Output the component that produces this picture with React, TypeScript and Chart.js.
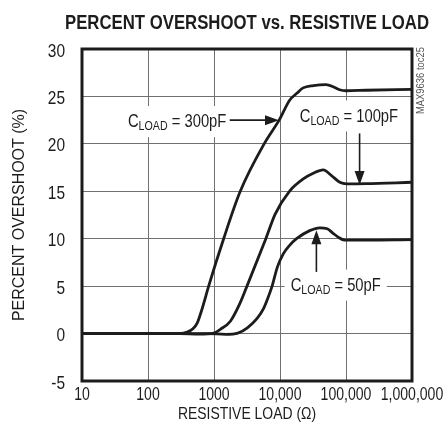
import React, { useEffect, useRef } from 'react';
import { Chart, registerables } from 'chart.js';

Chart.register(...registerables);

// ---------- data ----------
const X_TICKS = [10, 100, 1000, 10000, 100000, 1000000];
const X_TICK_LABELS = ['10', '100', '1000', '10,000', '100,000', '1,000,000'];

const R_300PF = [10, 300, 393, 480, 556, 640, 700, 830, 1400, 2500, 5750, 9700, 14000, 17800, 22400, 32000, 50000, 65000, 80000, 100000, 200000, 1000000];
const OS_300PF = [0, 0, 0.15, 0.5, 1.1, 2.3, 3.2, 5.0, 10, 15, 20, 22.5, 24.6, 25.3, 25.9, 26.15, 26.25, 26.0, 25.7, 25.6, 25.65, 25.75];

const R_100PF = [10, 300, 600, 990, 1250, 1770, 2440, 3160, 6100, 8450, 13900, 22500, 31900, 45200, 60300, 80600, 101600, 200000, 1000000];
const OS_100PF = [0, 0, -0.05, 0.05, 0.45, 1.3, 3.1, 5.0, 10, 12.6, 15, 16.3, 16.9, 17.25, 16.66, 15.95, 15.78, 15.8, 15.95];

const R_50PF = [10, 800, 1500, 2300, 3200, 4500, 5600, 6760, 7590, 9120, 11200, 14000, 17800, 28200, 40000, 52000, 63000, 75000, 95000, 200000, 1000000];
const OS_50PF = [0, 0, -0.08, 0.05, 0.6, 1.6, 2.6, 4.0, 5.0, 7.0, 8.4, 9.3, 10.0, 10.85, 11.15, 11.05, 10.6, 10.2, 9.85, 9.85, 9.9];

const TITLE = 'PERCENT OVERSHOOT vs. RESISTIVE LOAD';
const X_TITLE = 'RESISTIVE LOAD (Ω)';
const Y_TITLE = 'PERCENT OVERSHOOT (%)';
const CODE_TEXT = 'MAX9636 toc25';
const CAP_VALUES = ['300pF', '100pF', '50pF'];

// annotation anchors (data coordinates)
const ANNOTATIONS = [
  { value: CAP_VALUES[0], at: [49.7, 22.4], from: [1730, 22.5], to: [9660, 22.5] },
  { value: CAP_VALUES[1], at: [19900, 23.0], from: [160700, 21.1], to: [160700, 15.65] },
  { value: CAP_VALUES[2], at: [14500, 5.16], from: [35600, 6.5], to: [35600, 10.9] },
];

// ---------- style ----------
const INK = '#1c1c1c';
const GRID = '#707070';
const NARROW = 0.82;
const BASE = "'Liberation Sans', Arial, sans-serif";

function drawCondensed(ctx: CanvasRenderingContext2D, text: string, x: number, y: number, font: string, align: string, scaleX = NARROW) {
  ctx.save();
  ctx.font = font;
  const w = ctx.measureText(text).width * scaleX;
  let x0 = x;
  if (align === 'center') x0 = x - w / 2;
  else if (align === 'right') x0 = x - w;
  ctx.translate(x0, y);
  ctx.scale(scaleX, 1);
  ctx.textAlign = 'left';
  ctx.fillText(text, 0, 0);
  ctx.restore();
  return w;
}

function measureCondensed(ctx: CanvasRenderingContext2D, text: string, font: string, scaleX = NARROW) {
  ctx.save();
  ctx.font = font;
  const w = ctx.measureText(text).width * scaleX;
  ctx.restore();
  return w;
}

const overlay = {
  id: 'overlay',
  afterDatasetsDraw(chart: any) {
    const { ctx, chartArea: a, scales } = chart;
    const xs = scales.x;
    const ys = scales.y;
    ctx.save();
    // frame
    ctx.strokeStyle = INK;
    ctx.lineWidth = 3;
    ctx.strokeRect(a.left, a.top, a.right - a.left, a.bottom - a.top);

    // tick labels (positions from the library's scales)
    const tickFont = `18px ${BASE}`;
    ctx.fillStyle = INK;
    ctx.textBaseline = 'alphabetic';
    xs.ticks.forEach((t: any) => {
      const i = X_TICKS.indexOf(Number(t.value));
      if (i < 0) return;
      drawCondensed(ctx, X_TICK_LABELS[i], xs.getPixelForValue(t.value), a.bottom + 18.5, tickFont, 'center', 0.78);
    });
    ys.ticks.forEach((t: any) => {
      drawCondensed(ctx, String(t.value), a.left - 17, ys.getPixelForValue(t.value) + 7.5, tickFont, 'right', 0.86);
    });

    // annotations
    const mainFont = `18px ${BASE}`;
    const subFont = `13px ${BASE}`;
    ANNOTATIONS.forEach((an) => {
      const left = xs.getPixelForValue(an.at[0]);
      const capC = ys.getPixelForValue(an.at[1]);
      const base = capC + 6.4;
      const rest = ' = ' + an.value;
      const wC = measureCondensed(ctx, 'C', mainFont);
      const wL = measureCondensed(ctx, 'LOAD', subFont);
      const wR = measureCondensed(ctx, rest, mainFont);
      const total = wC + wL + wR;
      ctx.fillStyle = '#ffffff';
      ctx.fillRect(left - 6, capC - 15, total + 12, 31);
      ctx.fillStyle = INK;
      drawCondensed(ctx, 'C', left, base, mainFont, 'left');
      drawCondensed(ctx, 'LOAD', left + wC, base + 3, subFont, 'left');
      drawCondensed(ctx, rest, left + wC + wL, base, mainFont, 'left');

      // arrow
      const x1 = xs.getPixelForValue(an.from[0]);
      const y1 = ys.getPixelForValue(an.from[1]);
      const x2 = xs.getPixelForValue(an.to[0]);
      const y2 = ys.getPixelForValue(an.to[1]);
      const ang = Math.atan2(y2 - y1, x2 - x1);
      const len = 14;
      const hw = 5;
      ctx.strokeStyle = INK;
      ctx.lineWidth = 1.6;
      ctx.beginPath();
      ctx.moveTo(x1, y1);
      ctx.lineTo(x2 - Math.cos(ang) * len * 0.8, y2 - Math.sin(ang) * len * 0.8);
      ctx.stroke();
      ctx.beginPath();
      ctx.moveTo(x2, y2);
      ctx.lineTo(x2 - Math.cos(ang) * len - Math.sin(ang) * hw, y2 - Math.sin(ang) * len + Math.cos(ang) * hw);
      ctx.lineTo(x2 - Math.cos(ang) * len + Math.sin(ang) * hw, y2 - Math.sin(ang) * len - Math.cos(ang) * hw);
      ctx.closePath();
      ctx.fillStyle = INK;
      ctx.fill();
    });

    // title
    ctx.fillStyle = INK;
    const cx = (a.left + a.right) / 2;
    {
      const f = `bold 20px ${BASE}`;
      ctx.font = f;
      const natural = ctx.measureText(TITLE).width;
      drawCondensed(ctx, TITLE, cx, 29, f, 'center', 364 / natural);
    }
    // x title
    drawCondensed(ctx, X_TITLE, cx, 419, `17px ${BASE}`, 'center');
    // y title
    ctx.save();
    ctx.translate(24, (a.top + a.bottom) / 2);
    ctx.rotate(-Math.PI / 2);
    drawCondensed(ctx, Y_TITLE, 0, 0, `17px ${BASE}`, 'center', 0.94);
    ctx.restore();
    // code
    ctx.save();
    ctx.fillStyle = '#555';
    ctx.translate(a.right + 12, a.top - 2);
    ctx.rotate(-Math.PI / 2);
    drawCondensed(ctx, CODE_TEXT, 0, 0, `11.5px ${BASE}`, 'right');
    ctx.restore();
    ctx.restore();
  },
};

export default function App() {
  const ref = useRef<HTMLCanvasElement | null>(null);
  useEffect(() => {
    if (!ref.current) return;
    const mk = (r: number[], v: number[]) => r.map((x, i) => ({ x, y: v[i] }));
    const ds = (label: string, r: number[], v: number[]) => ({
      label,
      data: mk(r, v),
      borderColor: INK,
      borderWidth: 2.8,
      pointRadius: 0,
      fill: false,
      cubicInterpolationMode: 'monotone' as const,
    });
    const chart = new Chart(ref.current, {
      type: 'line',
      data: {
        datasets: [
          ds('300pF', R_300PF, OS_300PF),
          ds('100pF', R_100PF, OS_100PF),
          ds('50pF', R_50PF, OS_50PF),
        ],
      },
      options: {
        animation: false,
        responsive: false,
        devicePixelRatio: 1,
        layout: { padding: { top: 49, right: 35, left: 0, bottom: 0 } },
        plugins: { legend: { display: false }, tooltip: { enabled: false }, title: { display: false } },
        scales: {
          x: {
            type: 'logarithmic',
            min: 10,
            max: 1000000,
            afterBuildTicks: (s: any) => {
              s.ticks = X_TICKS.map((v) => ({ value: v }));
            },
            afterFit: (s: any) => {
              s.height = 57;
            },
            grid: { color: GRID, lineWidth: 1, drawTicks: false },
            border: { display: false },
            ticks: { display: false, autoSkip: false, maxRotation: 0, minRotation: 0 },
          },
          y: {
            type: 'linear',
            min: -5,
            max: 30,
            afterFit: (s: any) => {
              s.width = 82;
            },
            grid: { color: GRID, lineWidth: 1, drawTicks: false },
            border: { display: false },
            ticks: { stepSize: 5, display: false },
          },
        },
      },
      plugins: [overlay],
    });
    return () => chart.destroy();
  }, []);
  return (
    <div style={{ position: 'fixed', left: 0, top: 0, width: 447, height: 438, background: '#fff' }}>
      <canvas ref={ref} width={447} height={438} style={{ display: 'block' }} />
    </div>
  );
}
